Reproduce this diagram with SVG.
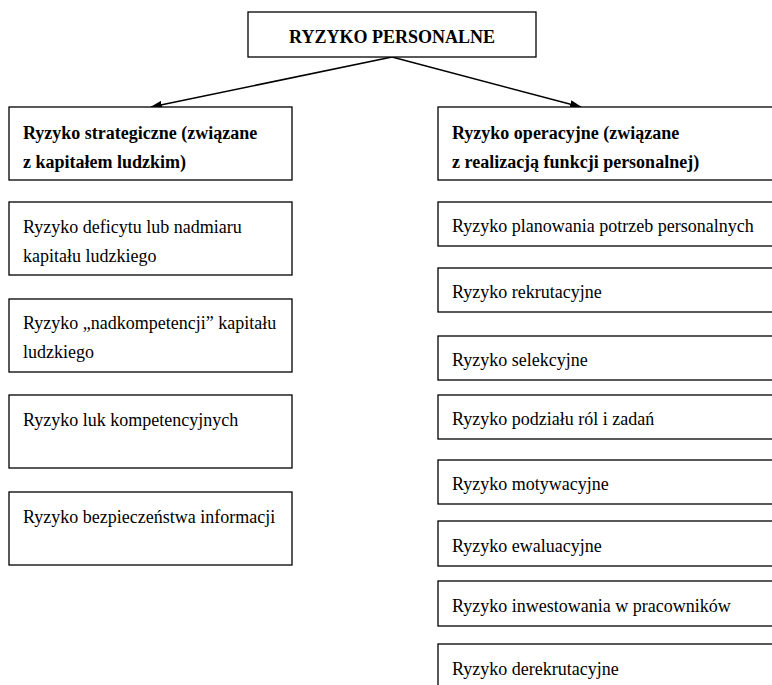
<svg xmlns="http://www.w3.org/2000/svg" width="772" height="685" viewBox="0 0 772 685">
<style>
.box{fill:#fff;stroke:#000;stroke-width:1.3}
.t{font-family:"Liberation Serif","Times New Roman",serif;font-size:18px;fill:#000}
.b{font-weight:bold}
.c{stroke:#000;stroke-width:1.5;fill:none}
</style>
<defs>
<marker id="ah" markerWidth="12" markerHeight="8" refX="11" refY="4" orient="auto" markerUnits="userSpaceOnUse">
<path d="M0,0 L12,4 L0,8 z" fill="#000"/>
</marker>
</defs>
<rect width="772" height="685" fill="#fff"/>
<g id="connectors">
<line class="c" x1="392" y1="57" x2="151" y2="107" marker-end="url(#ah)"/>
<line class="c" x1="392" y1="57" x2="581" y2="107" marker-end="url(#ah)"/>
</g>
<g id="root"><rect class="box" x="248" y="12" width="288" height="45"/><text class="t b" x="392" y="43" text-anchor="middle">RYZYKO PERSONALNE</text></g>
<g id="strat"><rect class="box" x="9" y="107" width="283" height="73"/><text class="t b" x="23" y="139">Ryzyko strategiczne (związane</text><text class="t b" x="23" y="168">z kapitałem ludzkim)</text></g>
<g id="oper"><rect class="box" x="438" y="107" width="340" height="73"/><text class="t b" x="452" y="139">Ryzyko operacyjne (związane</text><text class="t b" x="452" y="168">z realizacją funkcji personalnej)</text></g>
<g id="s1"><rect class="box" x="9" y="202" width="283" height="73"/><text class="t" x="23" y="233">Ryzyko deficytu lub nadmiaru</text><text class="t" x="23" y="262">kapitału ludzkiego</text></g>
<g id="s2"><rect class="box" x="9" y="299" width="283" height="73"/><text class="t" x="23" y="329">Ryzyko „nadkompetencji” kapitału</text><text class="t" x="23" y="358">ludzkiego</text></g>
<g id="s3"><rect class="box" x="9" y="395" width="283" height="73"/><text class="t" x="23" y="426">Ryzyko luk kompetencyjnych</text></g>
<g id="s4"><rect class="box" x="9" y="492" width="283" height="73"/><text class="t" x="23" y="523">Ryzyko bezpieczeństwa informacji</text></g>
<g id="o1"><rect class="box" x="438" y="202" width="340" height="44"/><text class="t" x="452" y="232">Ryzyko planowania potrzeb personalnych</text></g>
<g id="o2"><rect class="box" x="438" y="268" width="340" height="44"/><text class="t" x="452" y="298">Ryzyko rekrutacyjne</text></g>
<g id="o3"><rect class="box" x="438" y="336" width="340" height="44"/><text class="t" x="452" y="366">Ryzyko selekcyjne</text></g>
<g id="o4"><rect class="box" x="438" y="395" width="340" height="44"/><text class="t" x="452" y="425">Ryzyko podziału ról i zadań</text></g>
<g id="o5"><rect class="box" x="438" y="460" width="340" height="44"/><text class="t" x="452" y="490">Ryzyko motywacyjne</text></g>
<g id="o6"><rect class="box" x="438" y="521" width="340" height="45"/><text class="t" x="452" y="552">Ryzyko ewaluacyjne</text></g>
<g id="o7"><rect class="box" x="438" y="581" width="340" height="45"/><text class="t" x="452" y="612">Ryzyko inwestowania w pracowników</text></g>
<g id="o8"><rect class="box" x="438" y="644" width="340" height="60"/><text class="t" x="452" y="675">Ryzyko derekrutacyjne</text></g>
</svg>
